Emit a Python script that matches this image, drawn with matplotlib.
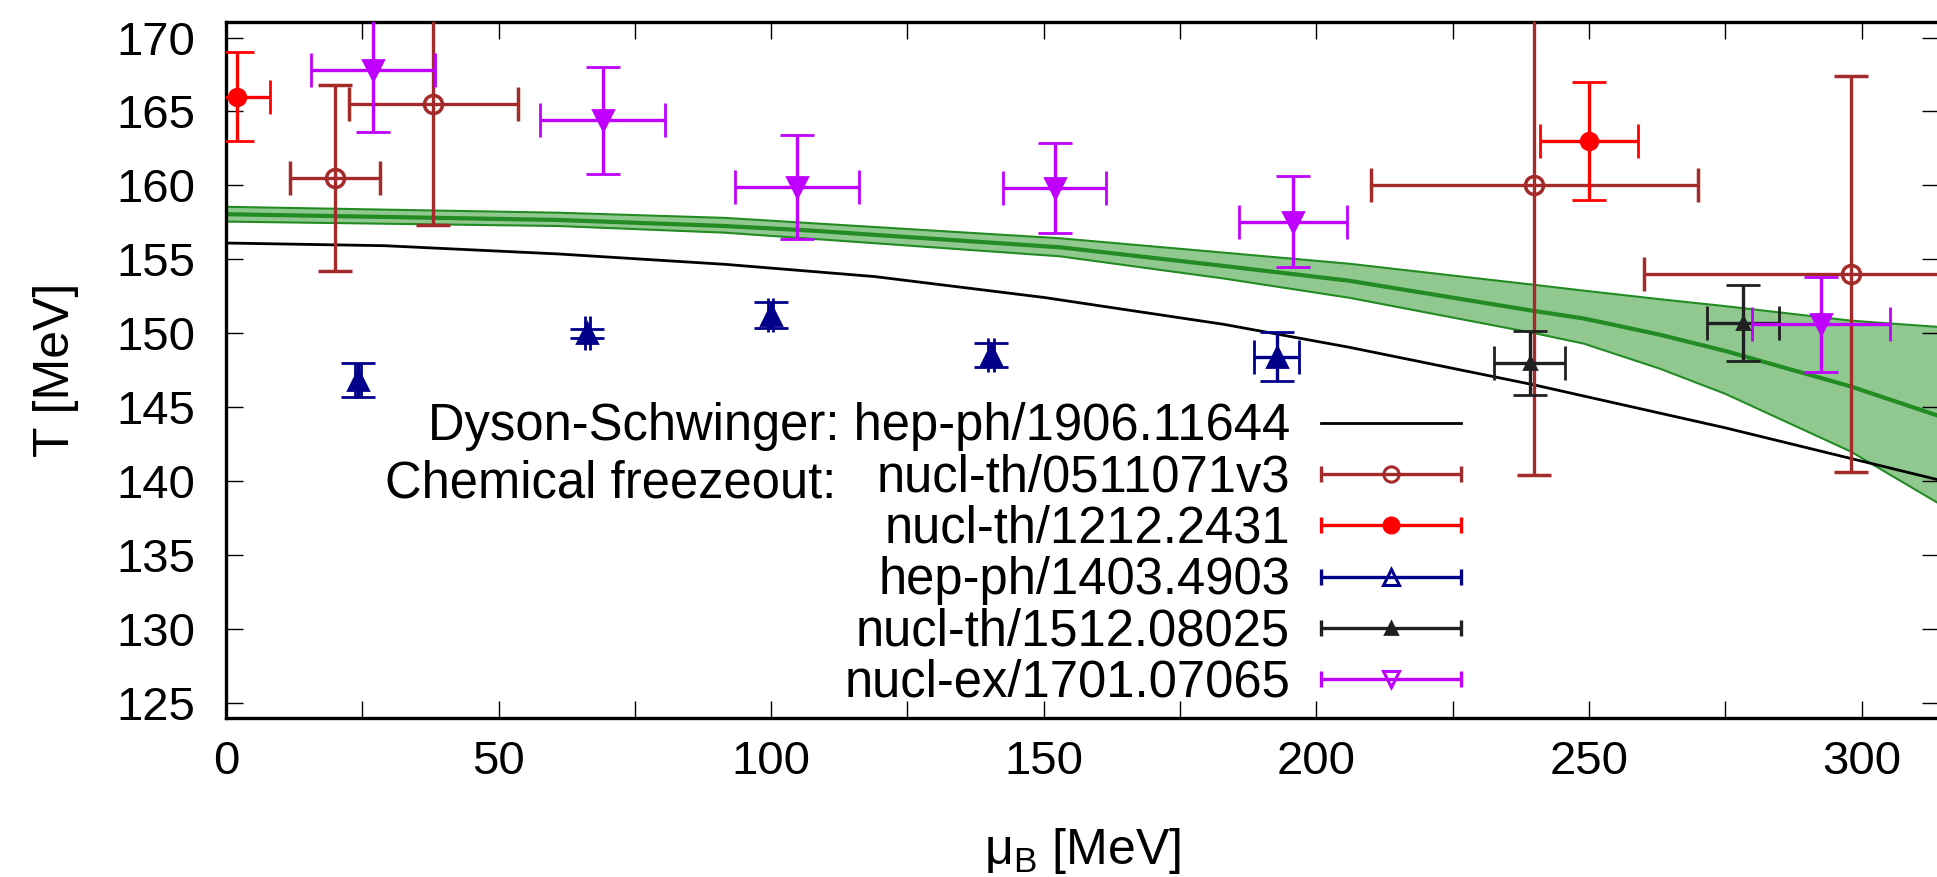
import matplotlib
matplotlib.use('Agg')
import matplotlib.pyplot as plt
from matplotlib.lines import Line2D
from matplotlib.legend_handler import HandlerBase

plt.rcParams['font.family'] = ['Liberation Sans', 'DejaVu Sans']
plt.rcParams['mathtext.fontset'] = 'custom'
plt.rcParams['mathtext.rm'] = 'Liberation Sans'
plt.rcParams['mathtext.it'] = 'Liberation Sans'
plt.rcParams['mathtext.bf'] = 'Liberation Sans:bold'

# ---------------- data ----------------
# Dyson-Schwinger crossover line
dse_mu = [0, 29, 61, 91.5, 119, 150, 183, 206, 240, 275, 315]
dse_T = [156.1, 155.92, 155.36, 154.66, 153.83, 152.42, 150.6, 149.05, 146.5, 143.6, 140.0]

# lattice band (central line and edges)
lat_mu = [0, 61, 91.5, 107, 153, 183, 206, 240, 249, 263, 275, 298, 315]
lat_lo = [157.55, 157.25, 156.8, 156.4, 155.2, 153.7, 152.4, 150.0, 149.3, 147.6, 145.9, 142.0, 138.3]
lat_c = [158.05, 157.66, 157.25, 156.95, 155.81, 154.55, 153.55, 151.5, 151.0, 149.9, 148.8, 146.4, 144.3]
lat_hi = [158.55, 158.15, 157.8, 157.45, 156.42, 155.45, 154.7, 153.27, 152.88, 152.3, 151.83, 150.85, 150.4]

# nucl-th/0511071v3
a_mu = [20, 38, 240, 298]
a_T = [160.5, 165.5, 160.0, 154.0]
a_xerr = [8.2, 15.5, 30, 38]
a_yerr = [6.3, 8.2, 19.6, 13.4]

# nucl-th/1212.2431
b_mu = [2, 250]
b_T = [166.0, 163.0]
b_xerr = [6, 9]
b_yerr = [3, 4]

# hep-ph/1403.4903
c_mu = [24.2, 66.3, 99.9, 140.3, 192.7]
c_T = [146.84, 150.0, 151.24, 148.53, 148.42]
c_xerr = [0.5, 0.5, 0.5, 0.5, 4.1]
c_yerr = [1.13, 0.3, 0.9, 0.8, 1.63]

# nucl-th/1512.08025
d_mu = [239.1, 278.3]
d_T = [148.0, 150.7]
d_xerr = [6.55, 6.6]
d_yerr = [2.17, 2.56]

# nucl-ex/1701.07065
e_mu = [26.9, 69.1, 104.7, 152.0, 195.7, 292.6]
e_T = [167.8, 164.4, 159.9, 159.8, 157.55, 150.6]
e_xerr = [11.4, 11.5, 11.4, 9.4, 9.9, 12.7]
e_yerr = [4.2, 3.6, 3.5, 3.05, 3.1, 3.2]

labels = ['Dyson-Schwinger: hep-ph/1906.11644', 'nucl-th/0511071v3', 'nucl-th/1212.2431',
          'hep-ph/1403.4903', 'nucl-th/1512.08025', 'nucl-ex/1701.07065']

# ---------------- styles ----------------
BROWN = '#A52A2A'
RED = '#FF0000'
NAVY = '#00008B'
BLACK = '#202020'
VIOLET = '#C000FF'
GREEN = '#228B22'
GFILL = '#90C890'
ELW = 2.4
CAP = 12
LFS = 36.5

W, H = 1937, 877
fig = plt.figure(figsize=(W / 100, H / 100), dpi=100)
ax = fig.add_axes([226 / W, (H - 717.6) / H, (1939 - 226) / W, (717.6 - 22) / H])
ax.set_xlim(0, 314.2)
ax.set_ylim(124.0, 171.05)

ax.fill_between(lat_mu, lat_lo, lat_hi, color=GFILL, lw=0, zorder=1)
ax.plot(lat_mu, lat_lo, color=GREEN, lw=1.5, zorder=1.2)
ax.plot(lat_mu, lat_hi, color=GREEN, lw=1.5, zorder=1.2)
ax.plot(lat_mu, lat_c, color=GREEN, lw=3.0, zorder=1.3)

dse_line, = ax.plot(dse_mu, dse_T, color='black', lw=2.0, zorder=2)


def eb(x, y, xe, ye, color, marker, ms, mfc, mew=2.0):
    return ax.errorbar(x, y, xerr=xe, yerr=ye, fmt=marker, color=color, ecolor=color,
                       elinewidth=ELW, capsize=CAP, capthick=ELW, ms=ms, mfc=mfc,
                       mec=color, mew=mew, zorder=3)


ea = eb(a_mu, a_T, a_xerr, a_yerr, BROWN, 'o', 13, 'none', 2.5)
ebb = eb(b_mu, b_T, b_xerr, b_yerr, RED, 'o', 12, RED)
ec = eb(c_mu, c_T, c_xerr, c_yerr, NAVY, '^', 15, NAVY)
ed = eb(d_mu, d_T, d_xerr, d_yerr, BLACK, '^', 9, BLACK)
ee = eb(e_mu, e_T, e_xerr, e_yerr, VIOLET, 'v', 15, VIOLET)


class HandlerXErr(HandlerBase):
    def __init__(self, color, marker, ms, mfc, mew=2.0):
        super().__init__()
        self.color, self.marker, self.ms, self.mfc, self.mew = color, marker, ms, mfc, mew

    def create_artists(self, legend, orig_handle, xdescent, ydescent, width, height,
                       fontsize, trans):
        y = height / 2 - ydescent
        x0, x1 = -xdescent, width - xdescent
        line = Line2D([x0, x1], [y, y], color=self.color, lw=ELW, solid_capstyle='butt')
        caps = Line2D([x0, x1], [y, y], ls='none', marker='|', ms=CAP, mew=ELW, color=self.color)
        mk = Line2D([(x0 + x1) / 2], [y], ls='none', marker=self.marker, ms=self.ms,
                    mfc=self.mfc, mec=self.color, mew=self.mew)
        for a in (line, caps, mk):
            a.set_transform(trans)
        return [line, caps, mk]


hmap = {
    ea: HandlerXErr(BROWN, 'o', 11, 'none', 2.2),
    ebb: HandlerXErr(RED, 'o', 11, RED),
    ec: HandlerXErr(NAVY, '^', 12, 'none', 2.2),
    ed: HandlerXErr(BLACK, '^', 8, BLACK),
    ee: HandlerXErr(VIOLET, 'v', 11, 'none', 2.2),
}

leg = ax.legend([dse_line, ea, ebb, ec, ed, ee], labels, handler_map=hmap,
                loc='upper right', bbox_to_anchor=((1461 - 226) / 1713, 0.4533),
                frameon=False, markerfirst=False, fontsize=LFS, handlelength=140 / 50.7,
                handletextpad=0.61, labelspacing=0.046, borderpad=0, borderaxespad=0)
leg.set_zorder(5)

ax.text((836 - 226) / 1713, (717.6 - 498) / 695.6, 'Chemical freezeout:', transform=ax.transAxes,
        ha='right', va='baseline', fontsize=LFS)

# axes styling
for s in ax.spines.values():
    s.set_linewidth(2.4)
ax.set_xticks([0, 50, 100, 150, 200, 250, 300])
ax.set_xticks([25, 75, 125, 175, 225, 275], minor=True)
ax.set_yticks([125, 130, 135, 140, 145, 150, 155, 160, 165, 170])
ax.tick_params(axis='both', which='both', direction='in', length=12.5, width=1.0,
               top=True, right=True, labelsize=34)
ax.tick_params(axis='x', which='both', pad=16)
ax.tick_params(axis='y', which='both', pad=22)

ax.set_xlabel(r'μ$_{\mathrm{B}}$ [MeV]', fontsize=36, va='top')
ax.xaxis.set_label_coords(0.5, (717.6 - 826) / 695.6)
ax.set_ylabel('T [MeV]', fontsize=36, va='center')
ax.yaxis.set_label_coords((56 - 226) / 1713, 0.5)

fig.savefig('out.png', dpi=100)
